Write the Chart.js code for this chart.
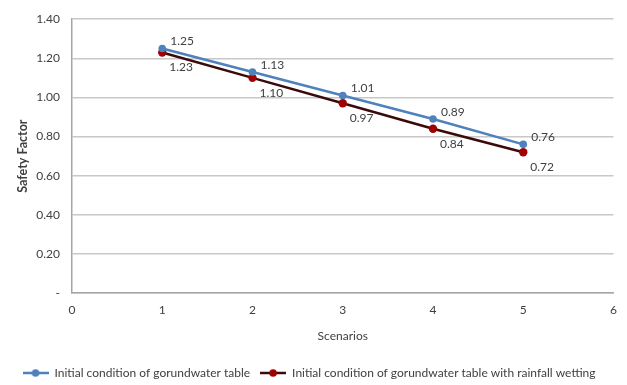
<!DOCTYPE html>
<html>
<head>
<meta charset="utf-8">
<script src="https://cdn.jsdelivr.net/npm/chart.js@4/dist/chart.umd.min.js"></script>
<style>
  html, body { margin: 0; padding: 0; background: #fff; }
  #c { display: block; }
</style>
</head>
<body>
<canvas id="c" width="627" height="385"></canvas>
<script>
// Scenario numbers and safety factors for the two groundwater conditions
const scenarios = [1, 2, 3, 4, 5];
const sfInitial = [1.25, 1.13, 1.01, 0.89, 0.76];
const sfRainfall = [1.23, 1.10, 0.97, 0.84, 0.72];
const seriesNames = [
  'Initial condition of gorundwater table',
  'Initial condition of gorundwater table with rainfall wetting'
];
const yTicks = [0, 0.2, 0.4, 0.6, 0.8, 1.0, 1.2, 1.4];

const FONT = "Lato, 'Open Sans', sans-serif";
const TEXT = '#404040';
const BLUE = '#4f81bd';
const DARK = '#3b0a0a';
const RED = '#a00000';

// Small legend swatch: a line segment with a round marker in the middle
function swatch(lineColor, dotColor) {
  const c = document.createElement('canvas');
  c.width = 26; c.height = 10;
  const g = c.getContext('2d');
  g.strokeStyle = lineColor; g.lineWidth = 2.5;
  g.beginPath(); g.moveTo(0, 5); g.lineTo(26, 5); g.stroke();
  g.fillStyle = dotColor;
  g.beginPath(); g.arc(13, 5, 3.8, 0, Math.PI * 2); g.fill();
  return c;
}

// Writes each point's value next to its marker
const valueLabels = {
  id: 'valueLabels',
  afterDatasetsDraw(chart) {
    const ctx = chart.ctx;
    ctx.save();
    ctx.font = '12px ' + FONT;
    ctx.fillStyle = TEXT;
    ctx.textAlign = 'left';
    ctx.textBaseline = 'middle';
    chart.data.datasets.forEach((ds, i) => {
      const meta = chart.getDatasetMeta(i);
      meta.data.forEach((pt, j) => {
        const v = ds.data[j].y;
        const dx = i === 0 ? 8 : 7;
        const dy = i === 0 ? -7 : 15;
        ctx.fillText(v.toFixed(2), pt.x + dx, pt.y + dy);
      });
    });
    ctx.restore();
  }
};

new Chart(document.getElementById('c'), {
  type: 'line',
  data: {
    datasets: [
      {
        label: seriesNames[0],
        data: scenarios.map((x, i) => ({ x, y: sfInitial[i] })),
        borderColor: BLUE,
        backgroundColor: BLUE,
        borderWidth: 2.5,
        pointRadius: 3.8,
        pointBackgroundColor: BLUE,
        pointBorderWidth: 0,
        pointStyle: 'circle',
        tension: 0
      },
      {
        label: seriesNames[1],
        data: scenarios.map((x, i) => ({ x, y: sfRainfall[i] })),
        borderColor: DARK,
        backgroundColor: RED,
        borderWidth: 2.5,
        pointRadius: 4.2,
        pointBackgroundColor: RED,
        pointBorderWidth: 0,
        pointStyle: 'circle',
        tension: 0
      }
    ]
  },
  options: {
    responsive: false,
    animation: false,
    layout: { padding: { left: 0, right: 9, top: 12, bottom: -4 } },
    plugins: {
      tooltip: { enabled: false },
      legend: {
        position: 'bottom',
        labels: {
          font: { family: FONT, size: 12 },
          color: TEXT,
          usePointStyle: true,
          pointStyleWidth: 26,
          padding: 10,
          generateLabels(chart) {
            const cols = [[BLUE, BLUE], [DARK, RED]];
            return chart.data.datasets.map((ds, i) => ({
              text: ds.label,
              pointStyle: swatch(cols[i][0], cols[i][1]),
              fillStyle: 'transparent',
              strokeStyle: 'transparent',
              lineWidth: 0,
              fontColor: TEXT,
              datasetIndex: i
            }));
          }
        }
      }
    },
    scales: {
      x: {
        type: 'linear',
        min: 0,
        max: 6,
        ticks: { stepSize: 1, color: TEXT, font: { family: FONT, size: 12 }, padding: 10 },
        grid: { display: false, drawTicks: false },
        border: { display: true, color: '#a6a6a6', width: 1.5 },
        title: { display: true, text: 'Scenarios', color: TEXT, font: { family: FONT, size: 12 }, padding: { top: 4, bottom: 14 } },
        afterFit(scale) { scale.height = 64; }
      },
      y: {
        min: 0,
        max: 1.4,
        afterBuildTicks(scale) { scale.ticks = yTicks.map(v => ({ value: v })); },
        ticks: {
          color: TEXT,
          font: { family: FONT, size: 12 },
          padding: 12,
          callback: v => (v === 0 ? '-' : v.toFixed(2))
        },
        grid: { color: '#c8c8c8', lineWidth: 1.5, drawTicks: false },
        border: { display: true, color: '#a6a6a6', width: 1.5 },
        title: { display: true, text: 'Safety Factor', color: TEXT, font: { family: FONT, size: 12.5, weight: 'bold' }, padding: { top: 15, bottom: 4 } },
        afterFit(scale) { scale.width = 72; }
      }
    }
  },
  plugins: [valueLabels]
});
</script>
</body>
</html>
